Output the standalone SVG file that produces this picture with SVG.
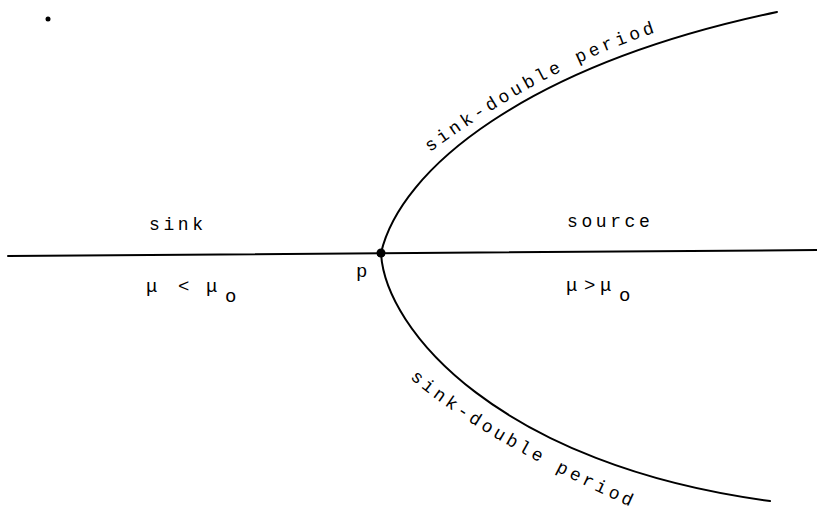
<svg xmlns="http://www.w3.org/2000/svg" width="817" height="514" viewBox="0 0 817 514">
<style>
.c{fill:none;stroke:#000;stroke-width:2;stroke-linecap:round}
.t{font-family:"Liberation Mono","DejaVu Sans Mono",monospace;font-size:18px;letter-spacing:3.6px;fill:#000}
.s{font-family:"Liberation Mono","DejaVu Sans Mono",monospace;font-size:19px;fill:#000}
</style>
<defs>
<path id="upath" d="M 430 152 C 482 115, 562 60, 676 26"/>
<path id="lpath" d="M 410 378 C 452 416, 540 468, 656 518"/>
</defs>
<rect width="817" height="514" fill="#fff"/>
<g id="connectors">
<path class="c" d="M 8 256 L 817 250"/>
<path class="c" d="M 381 253 C 400 170, 525 65, 777 12"/>
<path class="c" d="M 381 253 C 385 330, 500 465, 770 501"/>
</g>
<g id="p">
<circle cx="381" cy="253" r="4.5" fill="#000"/>
<text class="s" x="356" y="277">p</text>
</g>
<g id="sink">
<text class="t" x="149" y="230">sink</text>
<text class="s" x="146" y="292">μ</text>
<text class="s" x="178" y="292">&lt;</text>
<text class="s" x="206" y="292">μ</text>
<text class="s" x="225" y="302">o</text>
</g>
<g id="source">
<text class="t" x="567" y="227">source</text>
<text class="s" x="566" y="291">μ</text>
<text class="s" x="584" y="291">&gt;</text>
<text class="s" x="600" y="291">μ</text>
<text class="s" x="619" y="301">o</text>
</g>
<g id="upper">
<text class="t"><textPath href="#upath">sink-double period</textPath></text>
</g>
<g id="lower">
<text class="t"><textPath href="#lpath">sink-double period</textPath></text>
</g>
<circle cx="48" cy="19" r="2.5" fill="#000"/>
</svg>
